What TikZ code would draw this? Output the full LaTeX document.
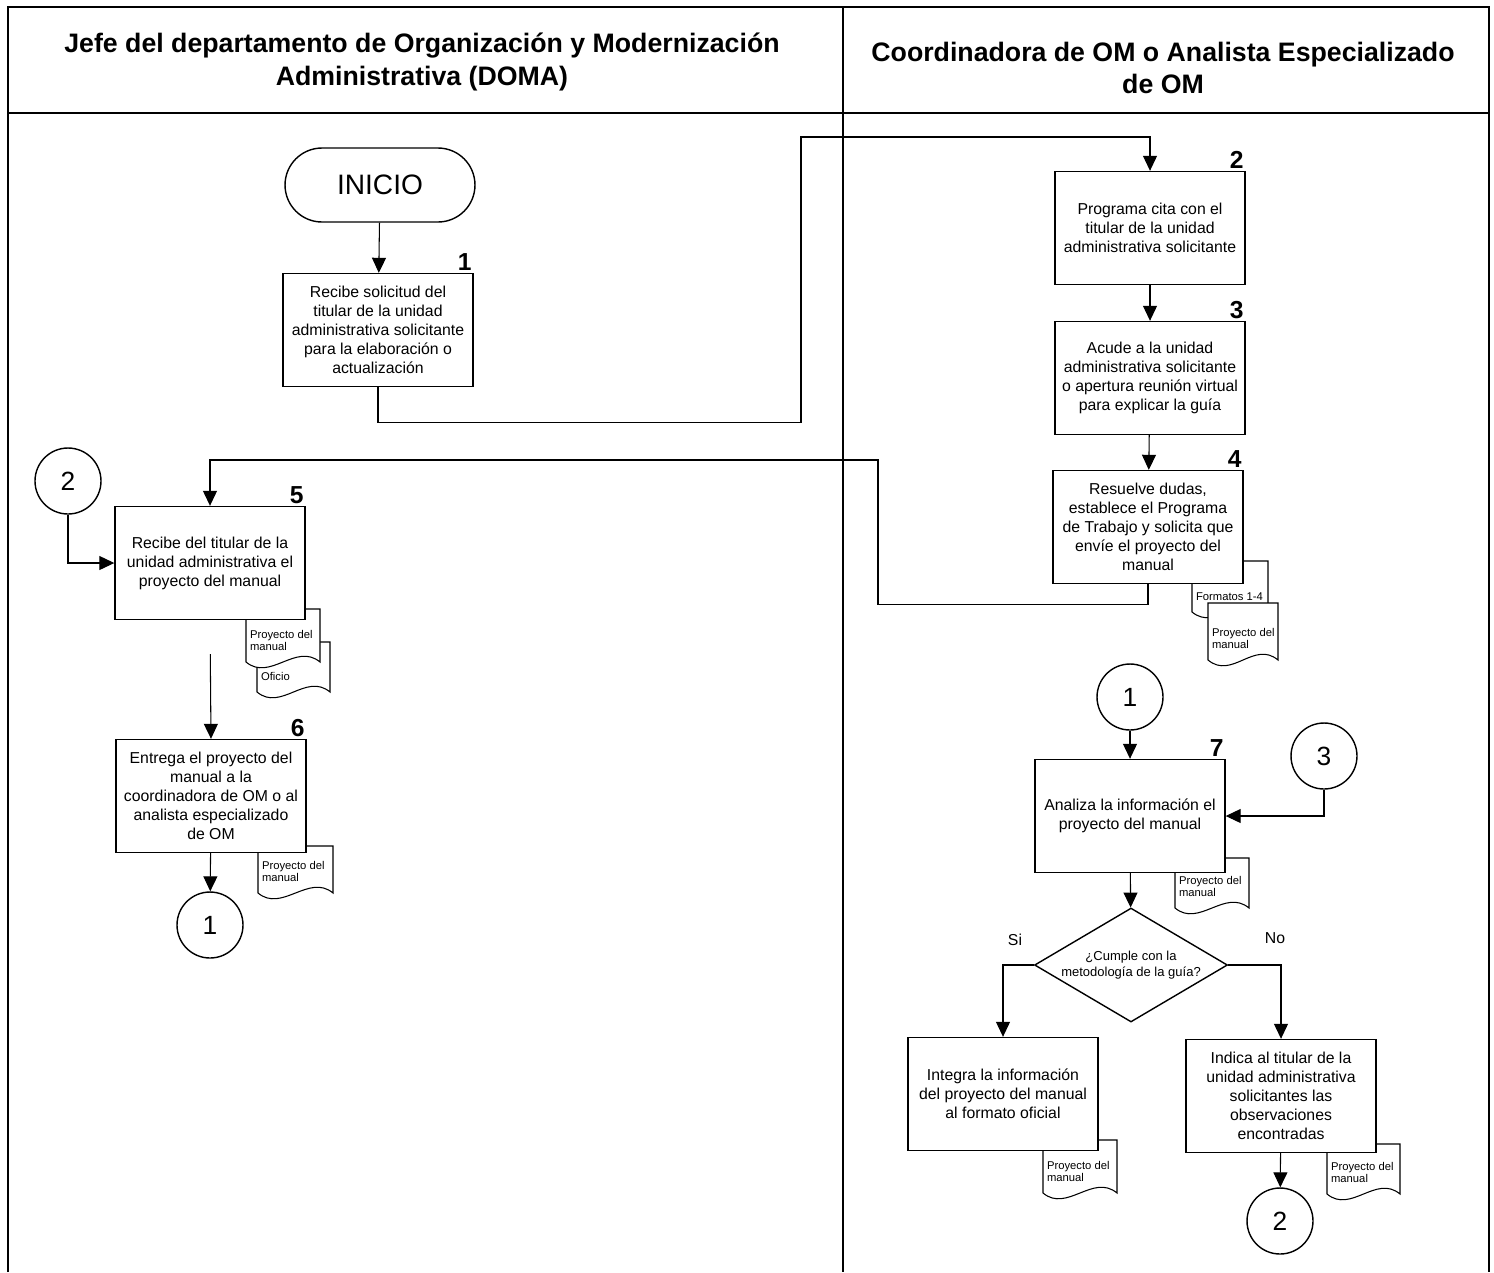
\documentclass[tikz,border=0pt]{standalone}
\usepackage{fontspec}
\setmainfont{Liberation Sans}
\usetikzlibrary{arrows.meta,calc,shapes.geometric}
\pgfdeclarelayer{back}
\pgfsetlayers{back,main}

% hoja de documento con borde ondulado (detras de las cajas)
\newcommand{\docsheet}[4]{%
  \begin{pgfonlayer}{back}
  \path #2 coordinate (#1 nw) #3 coordinate (#1 se);
  \path (#1 nw |- #1 se) coordinate (#1 sw);
  \filldraw[doc edge] (#1 nw) -| (#1 se) .. controls +(-24,-20) and +(24,20) .. (#1 sw) -- cycle;
  \node[doc text] (#1) at ($(#1 sw)+(2,-9)$) {#4};
  \end{pgfonlayer}}

\begin{document}
\begin{tikzpicture}[x=0.02cm, y=-0.02cm,
    lane/.style={line width=1.6pt},
    lane head/.style={font=\bfseries\fontsize{15.2}{18.5}\selectfont, align=center},
    activity/.style={draw, fill=white, line width=0.8pt, minimum width=3.8cm, minimum height=2.26cm,
      align=center, inner sep=2pt, font=\fontsize{9}{10.8}\selectfont},
    step no/.style={font=\bfseries\fontsize{14}{14}\selectfont, inner sep=1pt, anchor=south east},
    terminal/.style={draw, line width=0.8pt, rounded corners=0.74cm, minimum width=3.8cm,
      minimum height=1.48cm, font=\fontsize{16}{16}\selectfont},
    connector/.style={circle, draw, fill=white, line width=0.8pt, minimum size=1.32cm, inner sep=0pt,
      font=\fontsize{15}{15}\selectfont},
    decision/.style={diamond, draw, fill=white, line width=0.8pt, minimum width=3.86cm,
      minimum height=2.28cm, shape aspect=1.7, inner sep=0pt, align=center,
      font=\fontsize{7.4}{9.4}\selectfont},
    flow/.style={line width=0.6pt, -{Triangle[length=0.3cm, width=0.28cm]}},
    doc edge/.style={fill=white, line width=0.6pt},
    doc text/.style={anchor=south west, align=left, inner sep=1pt, font=\fontsize{6.4}{7.2}\selectfont},
    answer/.style={font=\fontsize{9}{9}\selectfont}
  ]
  \useasboundingbox (0,0) rectangle (1494,1272);

  % carriles
  \draw[lane] (8,1272) -- (8,7) -- (1489,7) -- (1489,1272);
  \draw[lane] (843,7) -- (843,1272);
  \draw[lane] (8,113) -- (1489,113);
  \node[lane head] (jefe) at (422,62) {Jefe del departamento de Organización y Modernización\\Administrativa (DOMA)};
  \node[lane head] (coord) at (1163,68) {Coordinadora de OM o Analista Especializado\\de OM};

  % carril del jefe
  \node[terminal] (inicio) at (380,185) {INICIO};
  \node[activity, label={[step no]north east:1}] (b1) at (378,330)
    {Recibe solicitud del\\titular de la unidad\\administrativa solicitante\\para la elaboración o\\actualización};
  \node[connector] (c2l) at (68,481) {2};
  \node[activity, label={[step no]north east:5}] (b5) at (210,563)
    {Recibe del titular de la\\unidad administrativa el\\proyecto del manual};
  \docsheet{d5b}{(257,642)}{(330,692)}{Oficio}
  \docsheet{d5a}{(246,609)}{(320,662)}{Proyecto del\\manual}
  \node[activity, label={[step no]north east:6}] (b6) at (211,796)
    {Entrega el proyecto del\\manual a la\\coordinadora de OM o al\\analista especializado\\de OM};
  \docsheet{d6}{(258,846)}{(333,893)}{Proyecto del\\manual}
  \node[connector] (c1l) at (210,925) {1};

  % carril de la coordinadora
  \node[activity, label={[step no]north east:2}] (b2) at (1150,228)
    {Programa cita con el\\titular de la unidad\\administrativa solicitante};
  \node[activity, label={[step no]north east:3}] (b3) at (1150,378)
    {Acude a la unidad\\administrativa solicitante\\o apertura reunión virtual\\para explicar la guía};
  \node[activity, label={[step no]north east:4}] (b4) at (1148,527)
    {Resuelve dudas,\\establece el Programa\\de Trabajo y solicita que\\envíe el proyecto del\\manual};
  \docsheet{d4a}{(1192,561)}{(1268,612)}{Formatos 1-4}
  \docsheet{d4b}{(1208,603)}{(1278,660)}{Proyecto del\\manual}
  \node[connector] (c1r) at (1130,697) {1};
  \node[connector] (c3) at (1324,756) {3};
  \node[activity, label={[step no]north east:7}] (b7) at (1130,816)
    {Analiza la información el\\proyecto del manual};
  \docsheet{d7}{(1175,858)}{(1249,908)}{Proyecto del\\manual}
  \node[decision] (dec) at (1131,965) {¿Cumple con la\\metodología de la guía?};
  \node[answer] (si) at (1015,940) {Si};
  \node[answer] (no) at (1275,938) {No};
  \node[activity] (b8) at (1003,1094)
    {Integra la información\\del proyecto del manual\\al formato oficial};
  \docsheet{d8}{(1043,1140)}{(1117,1193)}{Proyecto del\\manual}
  \node[activity] (b9) at (1281,1096)
    {Indica al titular de la\\unidad administrativa\\solicitantes las\\observaciones\\encontradas};
  \docsheet{d9}{(1327,1144)}{(1400,1194)}{Proyecto del\\manual}
  \node[connector] (c2r) at (1280,1221) {2};

  % flujo
  \draw[flow] (inicio) -- (b1);
  \draw[flow] (b1.south) -- ++(0,35) -| (801,137) -| (b2.north);
  \draw[flow] (b2) -- (b3);
  \draw[flow] (b3) -- (b4);
  \draw[flow] (b4.south) -- ++(0,20) -| (878,460) -| (b5.north);
  \draw[flow] (c2l.south) |- (b5.west);
  \draw[flow, shorten <=0.68cm] (b5.south) -- (b6.north);
  \draw[flow] (b6) -- (c1l);
  \draw[flow] (c1r) -- (b7);
  \draw[flow] (c3.south) |- (b7.east);
  \draw[flow] (b7) -- (dec);
  \draw[flow] (dec.west) -| (b8.north);
  \draw[flow] (dec.east) -| (b9.north);
  \draw[flow] (b9) -- (c2r);
\end{tikzpicture}
\end{document}
